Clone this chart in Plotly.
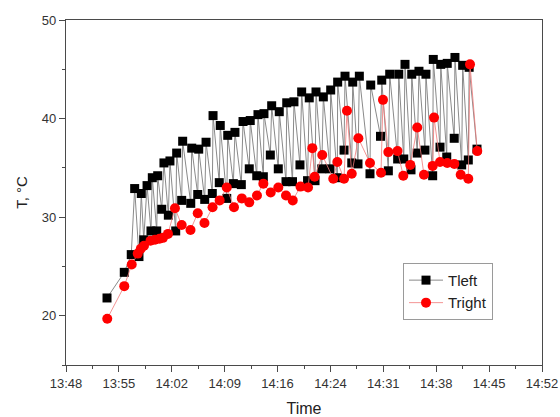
import plotly.graph_objects as go

DAY = "2000-01-01 "

# Left thermocouple: time stamps (HH:MM:SS) and temperatures, degC
t_left = [
    "13:53:35", "13:55:56", "13:56:53", "13:57:21", "13:57:56", "13:58:15",
    "13:58:35", "13:59:02", "13:59:34", "13:59:45", "14:00:21", "14:00:29",
    "14:01:02", "14:01:20", "14:01:56", "14:02:09", "14:02:56", "14:03:04",
    "14:03:45", "14:03:53", "14:04:59", "14:05:07", "14:05:56", "14:06:04",
    "14:06:53", "14:07:04", "14:07:55", "14:08:01", "14:08:52", "14:09:00",
    "14:09:53", "14:10:01", "14:10:47", "14:11:00", "14:11:52", "14:12:06",
    "14:12:57", "14:13:05", "14:13:58", "14:14:08", "14:14:52", "14:14:57",
    "14:15:49", "14:16:00", "14:16:54", "14:17:02", "14:17:57", "14:18:03",
    "14:18:50", "14:19:02", "14:19:51", "14:20:05", "14:20:53", "14:21:07",
    "14:21:54", "14:22:02", "14:22:49", "14:23:02", "14:23:56", "14:24:02",
    "14:24:56", "14:24:59", "14:25:51", "14:25:59", "14:26:54", "14:27:02",
    "14:27:45", "14:27:56", "14:29:23", "14:29:29", "14:30:49", "14:30:59",
    "14:31:53", "14:32:04", "14:33:09", "14:33:18", "14:33:59", "14:34:09",
    "14:34:58", "14:35:04", "14:35:49", "14:36:03", "14:36:52", "14:37:00",
    "14:37:55", "14:38:00", "14:38:55", "14:39:01", "14:39:50", "14:39:54",
    "14:40:51", "14:40:57", "14:41:52", "14:42:00", "14:42:46", "14:42:53",
    "14:43:57",
]
T_left = [
    21.8, 24.4, 26.2, 32.9, 26.0, 32.4,
    27.7, 33.2, 28.6, 34.0, 28.6, 34.2,
    30.8, 35.5, 30.2, 35.7, 28.6, 36.5,
    31.7, 37.7, 31.4, 37.0, 32.3, 36.9,
    31.8, 37.6, 32.4, 40.3, 33.5, 39.3,
    31.9, 38.3, 33.4, 38.6, 33.3, 39.7,
    34.9, 39.8, 34.2, 40.4, 34.1, 40.5,
    36.3, 41.3, 34.9, 40.7, 33.6, 41.6,
    33.6, 41.7, 35.3, 42.7, 33.7, 42.1,
    33.7, 42.7, 34.9, 42.2, 34.9, 42.9,
    34.0, 43.7, 36.8, 44.3, 35.5, 43.7,
    35.4, 44.3, 34.4, 43.4, 38.2, 43.9,
    34.7, 44.5, 35.9, 44.5, 35.9, 45.5,
    34.8, 44.5, 36.5, 44.8, 36.8, 44.5,
    34.2, 46.0, 37.1, 45.5, 36.1, 45.6,
    38.0, 46.2, 35.3, 45.4, 35.8, 45.2,
    36.9,
]

# Right thermocouple
t_right = [
    "13:53:37", "13:55:56", "13:56:57", "13:57:46", "13:58:11", "13:58:37",
    "13:59:30", "14:00:07", "14:00:44", "14:01:12", "14:01:53", "14:02:50",
    "14:03:45", "14:04:57", "14:05:56", "14:06:51", "14:07:57", "14:08:55",
    "14:09:53", "14:10:52", "14:11:56", "14:12:57", "14:14:00", "14:14:52",
    "14:15:52", "14:16:54", "14:17:57", "14:18:52", "14:19:55", "14:20:57",
    "14:21:32", "14:21:51", "14:22:53", "14:24:23", "14:24:56", "14:25:51",
    "14:26:15", "14:26:54", "14:27:48", "14:29:23", "14:30:53", "14:31:09",
    "14:31:53", "14:33:08", "14:33:55", "14:34:52", "14:35:49", "14:36:44",
    "14:37:55", "14:38:06", "14:38:55", "14:39:54", "14:40:52", "14:41:44",
    "14:42:46", "14:43:00", "14:43:59",
]
T_right = [
    19.7, 23.0, 25.2, 26.3, 26.8, 27.1,
    27.6, 27.7, 27.8, 27.9, 28.3, 30.9,
    29.2, 28.7, 30.4, 29.4, 31.0, 31.7,
    33.0, 31.0, 31.9, 31.5, 32.2, 33.4,
    32.5, 33.0, 32.2, 31.7, 33.1, 33.0,
    37.0, 34.1, 36.3, 33.9, 35.6, 33.9,
    40.8, 34.4, 38.0, 35.5, 34.5, 41.9,
    36.6, 36.7, 34.2, 35.3, 39.1, 34.3,
    35.2, 40.1, 35.6, 35.5, 35.4, 34.3,
    33.9, 45.5, 36.7,
]

# Axis ticks: 0.005 day (7.2 min) steps starting at 13:48
x_start = DAY + "13:48:00"
x_end = DAY + "14:52:48"
y_range = [15, 50]

FONT = "Liberation Sans, Arial, sans-serif"
AXIS_COLOR = "#4a4a4a"

fig = go.Figure()
fig.add_trace(go.Scatter(
    x=[DAY + t for t in t_left], y=T_left, name="Tleft",
    mode="lines+markers",
    line=dict(color="#8a8a8a", width=1),
    marker=dict(symbol="square", size=9, color="black"),
))
fig.add_trace(go.Scatter(
    x=[DAY + t for t in t_right], y=T_right, name="Tright",
    mode="lines+markers",
    line=dict(color="#f07878", width=0.8),
    marker=dict(symbol="circle", size=10, color="#ff0000"),
))

fig.update_layout(
    width=560, height=417,
    margin=dict(l=66, r=18, t=20, b=52),
    paper_bgcolor="white", plot_bgcolor="white",
    font=dict(family=FONT, size=13, color="#333"),
    showlegend=True,
    legend=dict(
        x=0.708, y=0.296, xanchor="left", yanchor="top",
        bordercolor="#9a9a9a", borderwidth=1, bgcolor="white",
        font=dict(size=15, color="#222"),
        tracegroupgap=0, itemwidth=34,
    ),
)

fig.update_xaxes(
    type="date", range=[x_start, x_end], automargin=False,
    tick0=x_start, dtick=432000, tickformat="%H:%M",
    ticks="outside", ticklen=6, tickcolor=AXIS_COLOR, tickwidth=1,
    minor=dict(tick0=x_start, dtick=216000, ticks="outside", ticklen=3,
               tickcolor=AXIS_COLOR, showgrid=False),
    showline=True, linecolor=AXIS_COLOR, linewidth=1.3, mirror=True,
    showgrid=False, zeroline=False,
    tickfont=dict(size=13, color="#333"),
    title=dict(text="Time", font=dict(size=16, color="#222"), standoff=13),
)
fig.update_yaxes(
    range=y_range, tick0=0, dtick=10, automargin=False,
    ticks="outside", ticklen=6, tickcolor=AXIS_COLOR, tickwidth=1,
    minor=dict(tick0=0, dtick=5, ticks="outside", ticklen=3,
               tickcolor=AXIS_COLOR, showgrid=False),
    showline=True, linecolor=AXIS_COLOR, linewidth=1.3, mirror=True,
    showgrid=False, zeroline=False,
    tickfont=dict(size=13, color="#333"),
    title=dict(text="T, °C", font=dict(size=15, color="#222"), standoff=10),
)

fig.write_html("out.html")
